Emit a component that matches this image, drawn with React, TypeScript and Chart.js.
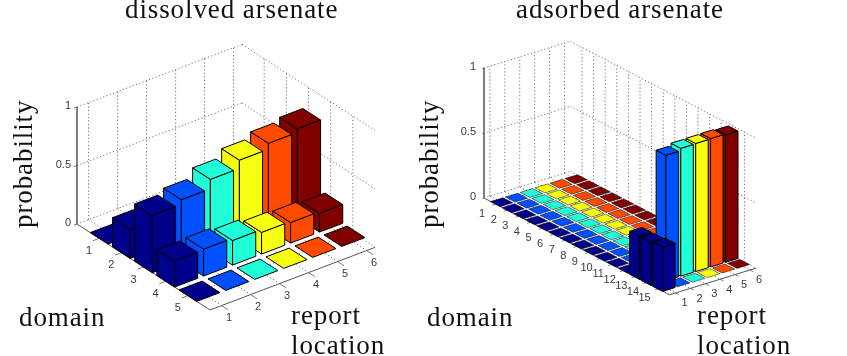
import { useEffect, useRef } from "react";
import { Chart, registerables } from "chart.js";

Chart.register(...registerables);

const locationLabels = ["1", "2", "3", "4", "5", "6"];
const locationColors = ["#00008a", "#0050ff", "#20ffd8", "#f6ff10", "#ff4a00", "#800000"];

const dissolvedDomains = ["1", "2", "3", "4", "5"];
const dissolvedValues = [
  [0, 0, 0, 0, 0, 0],
  [0.25, 0, 0, 0, 0, 0],
  [0.49, 0.53, 0.61, 0.68, 0.73, 0.76],
  [0.22, 0.23, 0.21, 0.185, 0.175, 0.16],
  [0, 0, 0, 0, 0, 0],
];

const adsorbedDomains = ["1","2","3","4","5","6","7","8","9","10","11","12","13","14","15"];
const adsorbedValues = [
  [0, 0, 0, 0, 0, 0],
  [0, 0, 0, 0, 0, 0],
  [0, 0, 0, 0, 0, 0],
  [0, 0, 0, 0, 0, 0],
  [0, 0, 0, 0, 0, 0],
  [0, 0, 0, 0, 0, 0],
  [0, 0, 0, 0, 0, 0],
  [0, 0, 0, 0, 0, 0],
  [0, 0, 0, 0, 0, 0],
  [0, 0, 0, 0, 0, 0],
  [0, 0, 0, 0, 0, 0],
  [0, 0, 0, 0, 0, 0],
  [0.33, 0, 0, 0, 0, 0],
  [0.33, 0.965, 0.983, 0.985, 0.987, 0.98],
  [0.34, 0, 0, 0, 0, 0],
];

const probabilityTicks = [0, 0.5, 1];
const probabilityTickLabels = ["0", "0.5", "1"];

type Panel = {
  domains: string[];
  values: number[][];
  ox: number; oy: number;
  dx: number; dy: number;
  lx: number; ly: number;
  zu: number;
  dMax: number; lMin: number; lMax: number;
  dLabel: [number, number]; lLabel: [number, number]; zLabelX: number;
  halfBar: number; flatEdge: number;
};

const panels: Panel[] = [
  { domains: dissolvedDomains, values: dissolvedValues, ox: 77, oy: 224, dx: 22.17, dy: 14.33, lx: 29, ly: -11, zu: 117,
    dMax: 6, lMin: 0.6, lMax: 6.29, dLabel: [-10, 12.5], lLabel: [7.5, 12.5], zLabelX: 71, halfBar: 0.4, flatEdge: 1 },
  { domains: adsorbedDomains, values: adsorbedValues, ox: 484, oy: 198, dx: 11.6, dy: 6.05, lx: 14.9, ly: -4.6, zu: 130,
    dMax: 16, lMin: 0.6, lMax: 6.4, dLabel: [-13.5, 9.5], lLabel: [9, 10.5], zLabelX: 476, halfBar: 0.42, flatEdge: 0.5 },
];

const GRID = "#707070";
const AXIS = "#555555";
const SERIF = '"Liberation Serif", serif';
const SANS = '"Liberation Sans", sans-serif';

type Pt = { x: number; y: number };

function project(p: Panel, d: number, l: number, z: number): Pt {
  return {
    x: p.ox + d * p.dx + (l - p.lMin) * p.lx,
    y: p.oy + d * p.dy + (l - p.lMin) * p.ly - z * p.zu,
  };
}

function lineSet(data: Pt[], dash: number[], color: string, width: number) {
  return {
    type: "scatter" as const,
    data,
    showLine: true,
    borderColor: color,
    borderWidth: width,
    borderDash: dash,
    pointRadius: 0,
    order: 1,
  };
}

function frameSets(p: Panel) {
  const out: any[] = [];
  const dotted = (a: Pt, b: Pt) => out.push(lineSet([a, b], [1.2, 2.3], GRID, 1));
  const solid = (a: Pt, b: Pt, w = 1) => out.push(lineSet([a, b], [], AXIS, w));
  for (const z of probabilityTicks) {
    dotted(project(p, 0, p.lMin, z), project(p, 0, p.lMax, z));
    dotted(project(p, 0, p.lMax, z), project(p, p.dMax, p.lMax, z));
  }
  locationLabels.forEach((_, i) => {
    const l = i + 1;
    dotted(project(p, 0, l, 0), project(p, 0, l, 1));
    dotted(project(p, 0, l, 0), project(p, p.dMax, l, 0));
  });
  p.domains.forEach((_, i) => {
    const d = i + 1;
    dotted(project(p, d, p.lMax, 0), project(p, d, p.lMax, 1));
    dotted(project(p, d, p.lMin, 0), project(p, d, p.lMax, 0));
  });
  solid(project(p, 0, p.lMin, 0), project(p, 0, p.lMin, 1), 1.5);
  solid(project(p, 0, p.lMin, 0), project(p, p.dMax, p.lMin, 0));
  solid(project(p, p.dMax, p.lMin, 0), project(p, p.dMax, p.lMax, 0));
  const tl = 0.22;
  p.domains.forEach((_, i) => {
    solid(project(p, i + 1, p.lMin, 0), project(p, i + 1, p.lMin - tl, 0), 0.8);
  });
  locationLabels.forEach((_, i) => {
    solid(project(p, p.dMax, i + 1, 0), project(p, p.dMax + (tl * 29) / 22, i + 1, 0), 0.8);
  });
  probabilityTicks.forEach((z) => {
    solid(project(p, 0, p.lMin, z), project(p, 0, p.lMin - tl / 2, z), 0.8);
  });
  return out;
}

function polygonSet(points: Pt[], fill: string, edge: number) {
  return {
    type: "scatter" as const,
    data: points,
    showLine: false,
    pointRadius: 0,
    order: 0,
    polygonFill: fill,
    polygonEdge: edge,
    backgroundColor: fill,
    borderColor: fill,
  };
}

function barSets(p: Panel) {
  const out: any[] = [];
  const w = p.halfBar;
  p.values.forEach((row, di) => {
    for (let li = row.length - 1; li >= 0; li--) {
      const d = di + 1, l = li + 1, h = row[li], color = locationColors[li];
      const d0 = d - w, d1 = d + w, l0 = l - w, l1 = l + w;
      if (h > 0) {
        out.push(polygonSet([project(p, d0, l0, 0), project(p, d1, l0, 0), project(p, d1, l0, h), project(p, d0, l0, h)], color, 1));
        out.push(polygonSet([project(p, d1, l0, 0), project(p, d1, l1, 0), project(p, d1, l1, h), project(p, d1, l0, h)], color, 1));
      }
      out.push(polygonSet([project(p, d0, l0, h), project(p, d0, l1, h), project(p, d1, l1, h), project(p, d1, l0, h)], color, h > 0 ? 1 : p.flatEdge));
    }
  });
  return out;
}

const captions: { text: string; x: number; y: number; rot?: boolean }[] = [
  { text: "dissolved arsenate", x: 125, y: 18 },
  { text: "adsorbed arsenate", x: 516, y: 18 },
  { text: "probability", x: 32, y: 228, rot: true },
  { text: "probability", x: 438, y: 228, rot: true },
  { text: "domain", x: 19, y: 326 },
  { text: "domain", x: 427, y: 326 },
  { text: "report", x: 291, y: 324 },
  { text: "location", x: 291, y: 354 },
  { text: "report", x: 697, y: 324 },
  { text: "location", x: 697, y: 354 },
];

const paintPlugin = {
  id: "paint",
  afterDatasetsDraw(chart: any) {
    const ctx: CanvasRenderingContext2D = chart.ctx;
    const sx = chart.scales.x, sy = chart.scales.y;
    ctx.save();
    chart.data.datasets.forEach((ds: any, i: number) => {
      if (!ds.polygonFill) return;
      const pts = chart.getDatasetMeta(i).data;
      ctx.beginPath();
      pts.forEach((pt: any, k: number) => (k ? ctx.lineTo(pt.x, pt.y) : ctx.moveTo(pt.x, pt.y)));
      ctx.closePath();
      ctx.fillStyle = ds.polygonFill;
      ctx.fill();
      ctx.strokeStyle = "#000000";
      ctx.lineWidth = ds.polygonEdge;
      ctx.lineJoin = "round";
      ctx.stroke();
    });

    ctx.fillStyle = "#3a3a3a";
    ctx.font = `11px ${SANS}`;
    ctx.textBaseline = "middle";
    for (const p of panels) {
      ctx.textAlign = "center";
      p.domains.forEach((t, i) => {
        const a = project(p, i + 1, p.lMin, 0);
        ctx.fillText(t, sx.getPixelForValue(a.x + p.dLabel[0]), sy.getPixelForValue(a.y + p.dLabel[1]));
      });
      locationLabels.forEach((t, i) => {
        const a = project(p, p.dMax, i + 1, 0);
        ctx.fillText(t, sx.getPixelForValue(a.x + p.lLabel[0]), sy.getPixelForValue(a.y + p.lLabel[1]));
      });
      ctx.textAlign = "right";
      probabilityTicks.forEach((z, i) => {
        const a = project(p, 0, p.lMin, z);
        ctx.fillText(probabilityTickLabels[i], sx.getPixelForValue(p.zLabelX), sy.getPixelForValue(a.y - 1));
      });
    }

    ctx.fillStyle = "#111111";
    ctx.font = `27px ${SERIF}`;
    (ctx as any).letterSpacing = "0.9px";
    ctx.textAlign = "left";
    ctx.textBaseline = "alphabetic";
    for (const c of captions) {
      ctx.save();
      ctx.translate(sx.getPixelForValue(c.x), sy.getPixelForValue(c.y));
      if (c.rot) ctx.rotate(-Math.PI / 2);
      ctx.fillText(c.text, 0, 0);
      ctx.restore();
    }
    ctx.restore();
  },
};

export default function App() {
  const ref = useRef<HTMLCanvasElement>(null);
  useEffect(() => {
    const datasets: any[] = [];
    panels.forEach((p) => datasets.push(...frameSets(p)));
    panels.forEach((p) => datasets.push(...barSets(p)));
    const chart = new Chart(ref.current as HTMLCanvasElement, {
      type: "scatter",
      data: { datasets },
      options: {
        animation: false,
        responsive: false,
        layout: { padding: 0 },
        plugins: { legend: { display: false }, tooltip: { enabled: false }, title: { display: false } },
        scales: {
          x: { type: "linear", display: false, min: 0, max: 847 },
          y: { type: "linear", display: false, min: 0, max: 356, reverse: true },
        },
      },
      plugins: [paintPlugin],
    } as any);
    return () => chart.destroy();
  }, []);
  return (
    <canvas
      ref={ref}
      width={847}
      height={356}
      style={{ position: "fixed", left: 0, top: 0, width: 847, height: 356, background: "#fff", filter: "blur(0.4px)" }}
    />
  );
}
